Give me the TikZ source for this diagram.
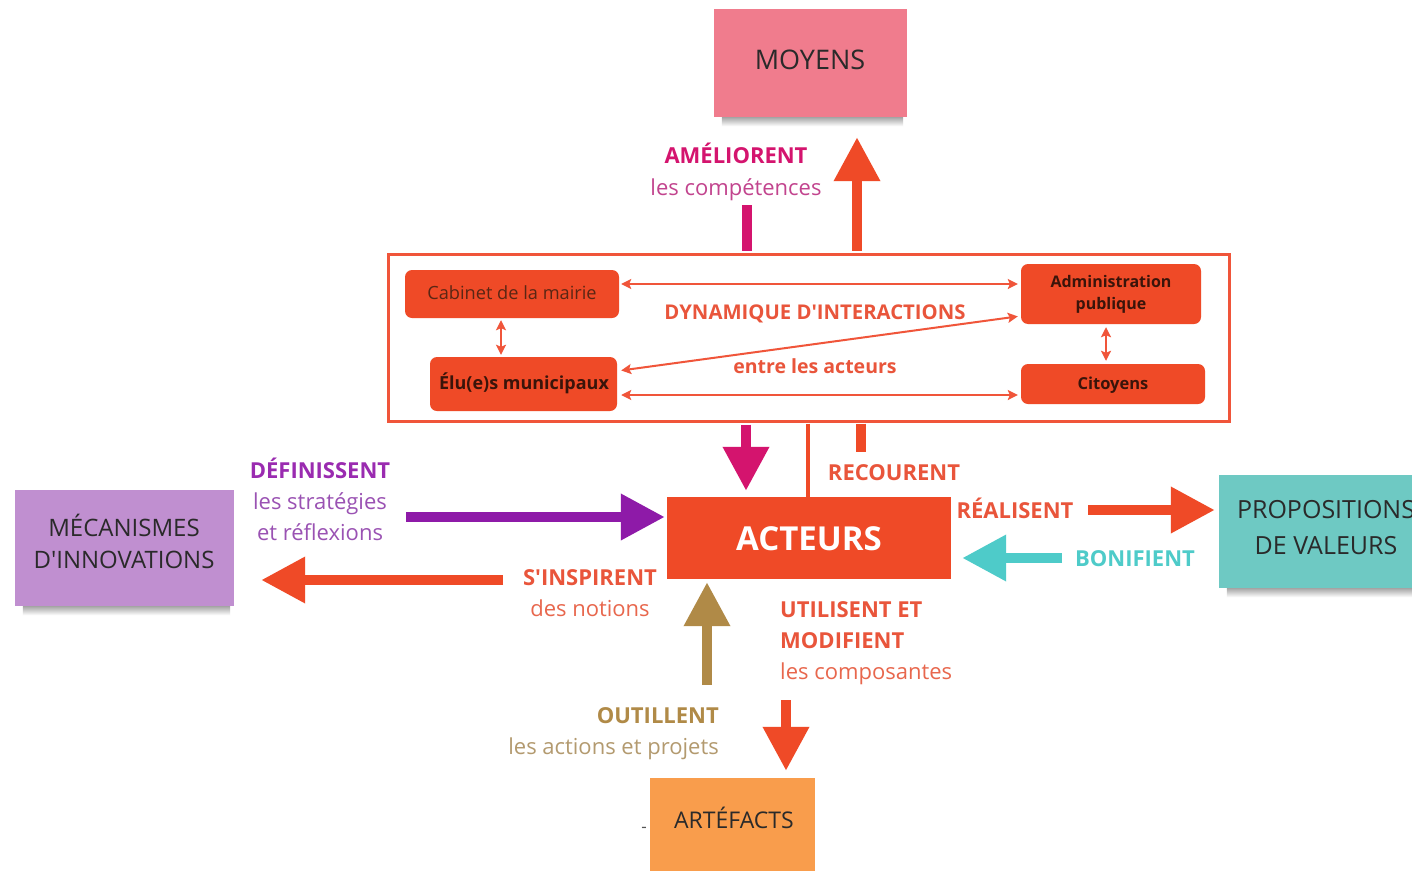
\documentclass[tikz,border=0pt]{standalone}
\usepackage{fontspec}
\setmainfont{Open Sans}[Ligatures=TeXOff]
\usetikzlibrary{arrows.meta}
\definecolor{ored}{HTML}{EF4A27}
\definecolor{framec}{HTML}{F0553A}
\definecolor{olab}{HTML}{E9553B}
\definecolor{olight}{HTML}{E8674D}
\definecolor{mag}{HTML}{D4146E}
\definecolor{maglight}{HTML}{C2448E}
\definecolor{purp}{HTML}{8E1AA8}
\definecolor{purplab}{HTML}{9A2BB0}
\definecolor{purplight}{HTML}{9A52B3}
\definecolor{brn}{HTML}{B08A47}
\definecolor{brnlight}{HTML}{B39A6F}
\definecolor{cyn}{HTML}{4ECBC9}
\definecolor{pinkbox}{HTML}{F07C8D}
\definecolor{lavbox}{HTML}{C08FD0}
\definecolor{tealbox}{HTML}{6EC9C3}
\definecolor{orgbox}{HTML}{F99D4C}
\definecolor{dtext}{HTML}{2A2A2A}
\definecolor{btext}{HTML}{3A140A}
\definecolor{ctext}{HTML}{5A2614}
\newcommand\stickshadow[1]{%
  \shade[top color=black!35, bottom color=white]
    ([xshift=8pt]#1.south west) rectangle ([xshift=-4pt,yshift=-9pt]#1.south east);}
\begin{document}
\begin{tikzpicture}[x=1pt,y=-1pt,
  sticky/.style={inner sep=0pt},
  stext/.style={inner sep=0pt, anchor=base, text=dtext, align=center},
  ibox/.style={fill=ored, rounded corners=7pt, inner sep=0pt},
  itext/.style={inner sep=0pt, anchor=base, align=center},
  lab/.style={inner sep=0pt, font=\bfseries\fontsize{22}{31}\selectfont},
  sub/.style={inner sep=0pt, font=\fontsize{22}{31}\selectfont},
  bigarrow/.style={line width=10pt, -{Triangle[width=44pt,length=44pt]}},
  thinarrow/.style={framec, line width=2pt,
     {Stealth[length=10pt,width=10pt,inset=2pt]}-{Stealth[length=10pt,width=10pt,inset=2pt]}}
]
\useasboundingbox (0,0) rectangle (1412,870);
\fill[white] (0,0) rectangle (1412,870);

% ---------- sticky notes ----------
\node[sticky, fill=pinkbox, minimum width=193pt, minimum height=108pt] (moyens) at (810.5,63) {};
\stickshadow{moyens}
\node[stext, font=\fontsize{27}{32}\selectfont] (moyensT) at (810,69) {MOYENS};

\node[sticky, fill=lavbox, minimum width=219pt, minimum height=116pt] (mecan) at (124.5,548) {};
\stickshadow{mecan}
\node[stext, font=\fontsize{24}{32}\selectfont] (mecanT) at (124,568) {MÉCANISMES\\D'INNOVATIONS};

\node[sticky, fill=tealbox, minimum width=212pt, minimum height=113pt] (props) at (1325,531.5) {};
\stickshadow{props}
\node[stext, font=\fontsize{25}{36}\selectfont] (propsT) at (1326,554) {PROPOSITIONS\\DE VALEURS};

\node[sticky, fill=orgbox, minimum width=165pt, minimum height=102pt] (artef) at (732.5,829) {};
\node[stext, font=\fontsize{23}{30}\selectfont] (artefT) at (734,828) {ARTÉFACTS};
\node[inner sep=0pt, anchor=base, text=dtext!80, font=\fontsize{17}{18}\selectfont] (dash) at (644,832) {-};

% ---------- frame with actors ----------
\node[draw=framec, line width=3pt, minimum width=841pt, minimum height=167pt, inner sep=0pt] (frame) at (808.5,337.5) {};

\node[ibox, minimum width=214pt, minimum height=48pt] (cab) at (512,294) {};
\node[itext, text=ctext, font=\fontsize{18.2}{20}\selectfont] (cabT) at (512,299) {Cabinet de la mairie};
\node[ibox, minimum width=180pt, minimum height=60pt] (adm) at (1111,294) {};
\node[itext, text=btext, font=\bfseries\fontsize{16}{22}\selectfont] (admT) at (1111,309) {Administration\\publique};
\node[ibox, minimum width=187pt, minimum height=54pt] (elu) at (523.5,384) {};
\node[itext, text=btext, font=\bfseries\fontsize{18}{20}\selectfont] (eluT) at (524,389) {Élu(e)s municipaux};
\node[ibox, minimum width=184pt, minimum height=40pt] (cit) at (1113,384) {};
\node[itext, text=btext, font=\bfseries\fontsize{16.5}{20}\selectfont] (citT) at (1113,389) {Citoyens};

\node[itext, text=olab, font=\bfseries\fontsize{20.3}{24}\selectfont] (dyn) at (815,319) {DYNAMIQUE D'INTERACTIONS};
\node[itext, text=olab, font=\bfseries\fontsize{19.5}{24}\selectfont] (entre) at (815,373) {entre les acteurs};

\draw[thinarrow, shorten <=2pt, shorten >=3pt] ([yshift=10pt]cab.east) -- ([yshift=10pt]cab.east -| adm.west);
\draw[thinarrow, shorten <=4pt, shorten >=3pt] ([yshift=-11pt]elu.east) -- ([yshift=-11pt]elu.east -| cit.west);
\draw[thinarrow, shorten <=4pt, shorten >=3pt] ([yshift=13pt]elu.east) -- ([yshift=-22pt]adm.west);
\coordinate (vx1) at (501,0);
\coordinate (vx2) at (1106,0);
\draw[thinarrow, shorten <=2pt, shorten >=2pt] (cab.south -| vx1) -- (elu.north -| vx1);
\draw[thinarrow, shorten <=3pt, shorten >=3pt] (adm.south -| vx2) -- (cit.north -| vx2);

% ---------- ACTEURS ----------
\node[fill=ored, minimum width=284pt, minimum height=82pt, inner sep=0pt] (acteurs) at (809,538) {};
\node[itext, text=white, font=\bfseries\fontsize{33}{36}\selectfont] (acteursT) at (809,550) {ACTEURS};

% ---------- top connectors ----------
\coordinate (mx) at (857,0);
\draw[bigarrow, ored, shorten <=2pt, shorten >=20pt] (frame.north -| mx) -- (moyens.south -| mx);
\coordinate (am) at (747,205);
\draw[mag, line width=10pt, shorten >=2pt] (am) -- (am |- frame.north);
\node[lab, anchor=base, text=mag] (amel) at (736,163) {AMÉLIORENT};
\node[sub, anchor=base, text=maglight] (amelS) at (736,195) {les compétences};

% ---------- connectors frame -> ACTEURS ----------
\coordinate (ax) at (746,0);
\draw[bigarrow, mag, shorten <=2pt, shorten >=6pt] (frame.south -| ax) -- (acteurs.north -| ax);
\coordinate (lx) at (808,0);
\draw[ored, line width=4pt, shorten <=1pt] (frame.south -| lx) -- (acteurs.north -| lx);
\coordinate (rstub) at (861,452);
\draw[ored, line width=10pt, shorten <=1pt] (frame.south -| rstub) -- (rstub);
\node[lab, anchor=base, text=olab] (recour) at (894,480) {RECOURENT};

% ---------- left ----------
\coordinate (ps) at (406,517);
\draw[bigarrow, purp, shorten >=2pt] (ps) -- (acteurs.west |- ps);
\node[lab, anchor=base, text=purplab] (def) at (320,478) {DÉFINISSENT};
\node[sub, anchor=base, text=purplight, align=center] (defS) at (320,540) {les stratégies\\et réflexions};

\coordinate (ls) at (503,580);
\draw[bigarrow, ored, shorten >=27pt] (ls) -- (mecan.east |- ls);
\node[lab, anchor=base, text=olab] (insp) at (590,585) {S'INSPIRENT};
\node[sub, anchor=base, text=olight] (inspS) at (590,616) {des notions};

% ---------- right ----------
\coordinate (rs) at (1088,510);
\draw[bigarrow, ored, shorten >=4pt] (rs) -- (props.west |- rs);
\node[lab, anchor=base, text=olab] (real) at (1015,518) {RÉALISENT};
\coordinate (bs) at (1062,558);
\draw[bigarrow, cyn, shorten >=11pt] (bs) -- (acteurs.east |- bs);
\node[lab, anchor=base, text=cyn] (bon) at (1135,566) {BONIFIENT};

% ---------- bottom ----------
\coordinate (bb) at (707,685);
\draw[bigarrow, brn, shorten >=3pt] (bb) -- (acteurs.south -| bb);
\node[lab, anchor=base east, text=brn] (outil) at (719,723) {OUTILLENT};
\node[sub, anchor=base east, text=brnlight] (outilS) at (719,754) {les actions et projets};

\coordinate (ds) at (786,700);
\draw[bigarrow, ored, shorten >=7pt] (ds) -- (artef.north -| ds);
\node[lab, anchor=base west, text=olab, align=left] (util) at (780,648) {UTILISENT ET\\MODIFIENT};
\node[sub, anchor=base west, text=olight] (utilS) at (780,679) {les composantes};
\end{tikzpicture}
\end{document}
